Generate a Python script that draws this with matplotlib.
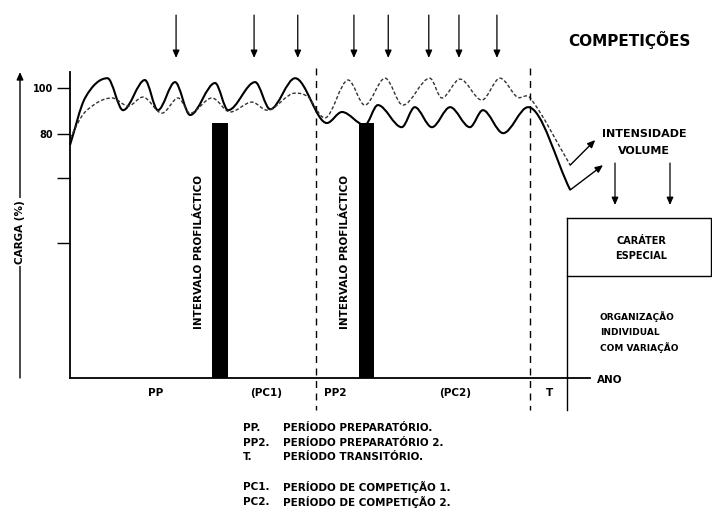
import numpy as np
import matplotlib
matplotlib.use('Agg')
import matplotlib.pyplot as plt
from matplotlib.path import Path
from matplotlib.patches import PathPatch
from matplotlib.lines import Line2D
from matplotlib.transforms import IdentityTransform

#Periodização: tempo em % da temporada (0-100), carga em %
W, H = 712, 522

#Volume (linha cheia): picos e vales
vol_t = [0, 2.9, 7.2, 10.2, 14.4, 16.9, 20.2, 23.1, 27.9, 30.4, 35.6, 38.5, 43.3,
         49.4, 52.3, 56.7, 59.2, 63.8, 66.3, 69.6, 73.1, 76.9, 79.4, 83.3, 88.1, 96.2]
vol_c = [75.2, 95.7, 104.3, 90.4, 103.5, 90.4, 102.6, 88.3, 102.2, 90.4, 102.6, 90.8, 104.3,
         84.8, 89.6, 83.9, 92.6, 83.0, 91.7, 83.0, 91.7, 83.0, 90.4, 80.4, 91.7, 55.7]
vol_end = (102.5, 66.5)

#Intensidade (linha tracejada)
int_t = [0, 2.9, 8.1, 11.2, 14.0, 17.7, 20.8, 23.1, 27.3, 30.8, 35.0, 37.9, 43.3, 45.8,
         49.0, 53.5, 56.7, 60.6, 64.0, 69.2, 71.5, 75.0, 79.2, 82.7, 86.0, 88.5, 96.2]
int_c = [78.3, 89.6, 95.7, 92.2, 96.1, 89.1, 95.7, 89.1, 95.7, 89.6, 93.9, 90.4, 97.8, 96.1,
         87.0, 103.5, 92.6, 104.3, 92.6, 104.3, 95.7, 103.9, 94.8, 104.3, 96.1, 95.7, 66.5]
int_end = (101.0, 77.4)

#Competições
comp_t = [20.4, 35.4, 43.8, 54.6, 61.2, 69.0, 74.8, 82.1]

#Intervalos profilácticos
interval_t = [27.4, 55.5]
interval_w = 3.0
interval_top = 85.0

#Limites dos períodos
bounds_dashed = [47.3, 88.5]
bound_solid = 95.6
period_labels = ['PP', '(PC1)', 'PP2', '(PC2)', 'T']
period_t = [16.5, 37.7, 51.0, 74.0, 92.3]

yticks = [100, 80, 60.9, 32.6]
ytick_labels = ['100', '80', '', '']

legend_abbr = ['PP.', 'PP2.', 'T.', 'PC1.', 'PC2.']
legend_desc = ['PERÍODO PREPARATÓRIO.', 'PERÍODO PREPARATÓRIO 2.', 'PERÍODO TRANSITÓRIO.',
               'PERÍODO DE COMPETIÇÃO 1.', 'PERÍODO DE COMPETIÇÃO 2.']
legend_y = [428, 443, 457, 487, 502]


def smooth_path(xs, ys):
    #cubic hermite through the read points, flat tangent at peaks/valleys
    xs = np.asarray(xs, float)
    ys = np.asarray(ys, float)
    n = len(xs)
    m = np.zeros(n)
    for i in range(n):
        if i == 0:
            m[i] = (ys[1]-ys[0])/(xs[1]-xs[0])
        elif i == n-1:
            m[i] = (ys[-1]-ys[-2])/(xs[-1]-xs[-2])
        elif (ys[i]-ys[i-1])*(ys[i+1]-ys[i]) <= 0:
            m[i] = 0
        else:
            m[i] = (ys[i+1]-ys[i-1])/(xs[i+1]-xs[i-1])
    verts = [(xs[0], ys[0])]
    codes = [Path.MOVETO]
    for i in range(n-1):
        h = (xs[i+1]-xs[i])/3.
        verts += [(xs[i]+h, ys[i]+m[i]*h), (xs[i+1]-h, ys[i+1]-m[i+1]*h), (xs[i+1], ys[i+1])]
        codes += [Path.CURVE4]*3
    return Path(verts, codes)


ident = IdentityTransform()
bold = dict(fontweight='bold', color='k', family='DejaVu Sans')


def ftext(x, y, s, **kw):
    opt = dict(bold)
    opt.update(kw)
    fig.text(x, H-y, s, transform=ident, **opt)


def fline(xs, ys, **kw):
    fig.add_artist(Line2D(xs, [H-y for y in ys], transform=ident, color='k', **kw))


def farrow(x0, y0, x1, y1, lw=0.9):
    ax.annotate('', xy=(x1, H-y1), xytext=(x0, H-y0), xycoords='figure pixels',
                textcoords='figure pixels', annotation_clip=False,
                arrowprops=dict(arrowstyle='-|>,head_length=0.45,head_width=0.2',
                                lw=lw, color='k', shrinkA=0, shrinkB=0))


fig = plt.figure(figsize=(W/100., H/100.), dpi=100)
ax = fig.add_axes([70./W, 1-378./H, 520./W, 306./H])
ax.set_xlim(0, 100)
ax.set_ylim(-26.1, 107.0)
for s in ['top', 'right']:
    ax.spines[s].set_visible(False)
for s in ['left', 'bottom']:
    ax.spines[s].set_linewidth(1.3)
ax.set_xticks([])
ax.set_yticks(yticks, ytick_labels)
ax.tick_params(axis='y', length=9.4, width=1, pad=3, labelsize=7)
for lab in ax.get_yticklabels():
    lab.set_fontweight('bold')

#curvas
ax.add_patch(PathPatch(smooth_path(vol_t, vol_c), fill=False, lw=1.5, ec='k', clip_on=False))
ax.add_patch(PathPatch(smooth_path(int_t, int_c), fill=False, lw=1.0, ec='0.2',
                       ls=(0, (2.5, 1.5)), clip_on=False))
for t, c, end in [(vol_t, vol_c, vol_end), (int_t, int_c, int_end)]:
    ax.annotate('', xy=end, xytext=(t[-1], c[-1]), annotation_clip=False,
                arrowprops=dict(arrowstyle='-|>,head_length=0.45,head_width=0.2',
                                lw=1.0, color='k', shrinkA=0, shrinkB=0))

#intervalos profilácticos
ax.bar(interval_t, interval_top-ax.get_ylim()[0], bottom=ax.get_ylim()[0], width=interval_w,
       align='edge', color='k', zorder=3)
for t in interval_t:
    ax.text(t-2.6, 28.7, 'INTERVALO PROFILÁCTICO', rotation=90, ha='center', va='center',
            fontsize=7.5, **bold)

#limites dos períodos
xt = ax.get_xaxis_transform()
for b in bounds_dashed:
    ax.plot([b, b], [1.013, -0.105], transform=xt, clip_on=False, color='k', lw=1.0,
            ls=(0, (5, 4)))
ax.plot([bound_solid, bound_solid], [0.523, -0.105], transform=xt, clip_on=False, color='k', lw=1.0)
for s, t in zip(period_labels, period_t):
    ax.text(t, -0.05, s, transform=xt, ha='center', va='center', fontsize=7.5, **bold)

#competições
for t in comp_t:
    ax.annotate('', xy=(t, 1.046), xytext=(t, 1.186), xycoords=xt, annotation_clip=False,
                arrowprops=dict(arrowstyle='-|>,head_length=0.45,head_width=0.2',
                                lw=0.9, color='k', shrinkA=0, shrinkB=0))
ftext(568, 40, 'COMPETIÇÕES', fontsize=11, va='center', ha='left')

#eixo y
farrow(20, 378, 20, 72, lw=1.0)
ftext(20, 232, 'CARGA (%)', rotation=90, fontsize=7.5, ha='center', va='center',
      bbox=dict(fc='white', ec='none', pad=1.5))
ftext(597, 380, 'ANO', fontsize=7.5, ha='left', va='center')

#intensidade / volume
ftext(644, 134, 'INTENSIDADE', fontsize=8, ha='center', va='center')
ftext(644, 151, 'VOLUME', fontsize=8, ha='center', va='center')
farrow(615, 163, 615, 205)
farrow(670, 163, 670, 205)

#caixa
fline([567, 710.5, 710.5, 567], [218, 218, 276, 276], lw=1.0)
ftext(641, 241, 'CARÁTER', fontsize=7, ha='center', va='center')
ftext(641, 256, 'ESPECIAL', fontsize=7, ha='center', va='center')
for i, s in enumerate(['ORGANIZAÇÃO', 'INDIVIDUAL', 'COM VARIAÇÃO']):
    ftext(600, 317+15.5*i, s, fontsize=6.5, ha='left', va='center')

#legenda
for a, d, y in zip(legend_abbr, legend_desc, legend_y):
    ftext(243, y, a, fontsize=7.5, ha='left', va='center')
    ftext(283, y, d, fontsize=7.5, ha='left', va='center')

fig.savefig('out.png', dpi=100)
